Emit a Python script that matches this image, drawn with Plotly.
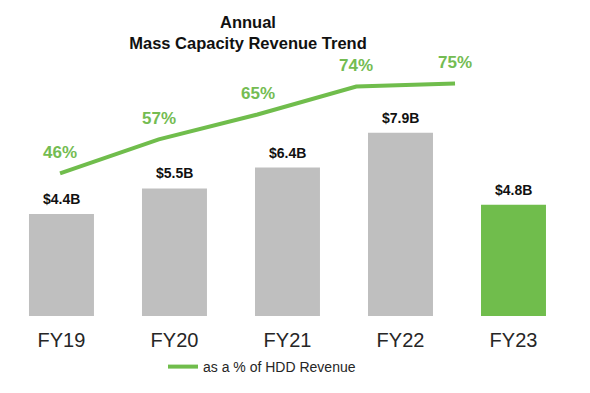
import plotly.graph_objects as go

categories = ["FY19", "FY20", "FY21", "FY22", "FY23"]
revenue_b = [4.4, 5.5, 6.4, 7.9, 4.8]
revenue_labels = ["$4.4B", "$5.5B", "$6.4B", "$7.9B", "$4.8B"]
pct_hdd = [46, 57, 65, 74, 75]
pct_labels = ["46%", "57%", "65%", "74%", "75%"]
legend_name = "as a % of HDD Revenue"

GRAY = "#BFBFBF"
GREEN = "#70BD4C"
FONT = "Arial, Liberation Sans, sans-serif"

bar_colors = [GRAY] * (len(categories) - 1) + [GREEN]
idx = list(range(len(categories)))

fig = go.Figure()
fig.add_trace(go.Bar(
    x=idx, y=revenue_b, marker=dict(color=bar_colors, line=dict(width=0)),
    width=0.575, showlegend=False, hoverinfo="skip",
))
fig.add_trace(go.Scatter(
    x=idx, y=pct_hdd, xaxis="x2", yaxis="y2", mode="lines",
    line=dict(color=GREEN, width=4), name=legend_name, showlegend=True,
))

annotations = []
for i, (v, t) in enumerate(zip(revenue_b, revenue_labels)):
    annotations.append(dict(x=i, y=v, xref="x", yref="y", text="<b>%s</b>" % t,
                            showarrow=False, yanchor="middle", yshift=15,
                            font=dict(family=FONT, size=14, color="#111111")))
for i, (v, t) in enumerate(zip(pct_hdd, pct_labels)):
    annotations.append(dict(x=i, y=v, xref="x2", yref="y2", text="<b>%s</b>" % t,
                            showarrow=False, yanchor="middle", yshift=21,
                            font=dict(family=FONT, size=17, color="#74BC52")))

fig.update_layout(
    width=590, height=393,
    margin=dict(l=0, r=0, t=0, b=77),
    paper_bgcolor="white", plot_bgcolor="white",
    font=dict(family=FONT),
    title=dict(text="<b>Annual<br>Mass Capacity Revenue Trend</b>",
               x=248/590, xanchor="center", xref="paper",
               y=1 - 28/393, yref="container", yanchor="top",
               font=dict(family=FONT, size=16.5, color="#111111")),
    xaxis=dict(range=[-0.544, 4.677], tickmode="array", tickvals=idx, ticktext=categories,
               showgrid=False, zeroline=False, showline=False, ticks="",
               tickfont=dict(family=FONT, size=20, color="#262626"),
               ticklabelstandoff=10, fixedrange=True),
    xaxis2=dict(range=[-0.608, 5.367], overlaying="x", visible=False),
    yaxis=dict(range=[0, 316/23.2], visible=False),
    yaxis2=dict(range=[0, 316/3.1], overlaying="y", visible=False),
    legend=dict(orientation="h", x=163/590, xanchor="left", y=-51/316, yanchor="middle",
                font=dict(family=FONT, size=14, color="#262626"), bgcolor="rgba(0,0,0,0)"),
    annotations=annotations,
)

fig.write_html("out.html", post_script="document.body.style.margin='0px';",
               config={"displayModeBar": False})
